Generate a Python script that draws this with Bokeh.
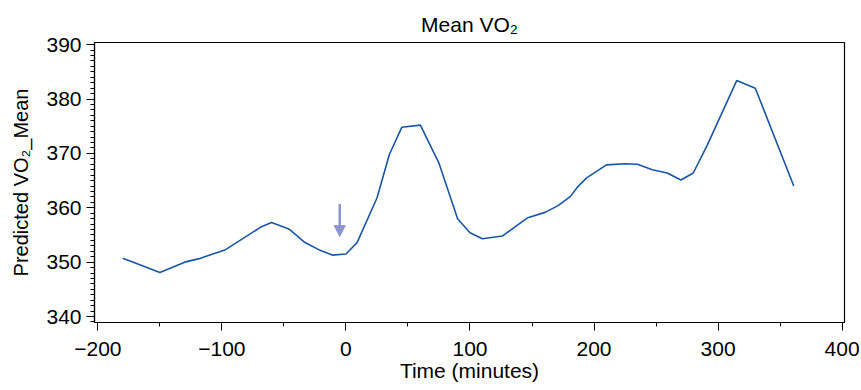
from bokeh.plotting import figure
from bokeh.models import Range1d, Arrow, NormalHead, SingleIntervalTicker
from bokeh.embed import file_html
from bokeh.resources import INLINE

# ---- data ----
time_min = [-180, -173, -150, -130, -119, -97, -69, -60, -46, -33, -22, -11, 0, 9,
            25, 35, 45, 60, 75, 90, 100, 110, 126, 146, 161, 171, 181, 187, 194,
            210, 225, 235, 247, 259, 270, 280, 291, 315, 330, 361]
vo2_mean = [350.7, 350.1, 348.1, 350.0, 350.6, 352.3, 356.4, 357.3, 356.1, 353.6,
            352.3, 351.3, 351.5, 353.6, 361.8, 369.8, 374.8, 375.2, 368.2, 358.0,
            355.4, 354.3, 354.8, 358.1, 359.2, 360.4, 362.1, 363.9, 365.5, 367.9,
            368.1, 368.0, 367.0, 366.4, 365.1, 366.4, 371.4, 383.4, 382.0, 364.0]

x_ticks = [-200, -100, 0, 100, 200, 300, 400]
x_tick_labels = ["\u2212200", "\u2212100", "0", "100", "200", "300", "400"]
y_ticks = [340, 350, 360, 370, 380, 390]

arrow_time = -5
arrow_top = 360.7
arrow_tip = 354.7

title_text = "Mean VO\u2082"
x_label = "Time (minutes)"
y_label = "Predicted VO\u2082_Mean"

FONT = "Liberation Sans"
LINE_COLOR = "#1a56a6"
ARROW_COLOR = "#8c95cd"

p = figure(width=861, height=390, output_backend="svg", toolbar_location=None,
           x_range=Range1d(-202.7, 401.9), y_range=Range1d(338.9, 390.4),
           min_border_left=94, min_border_right=17, min_border_top=42,
           min_border_bottom=68)

p.title.text = title_text
p.title.align = "center"
p.title.text_font = FONT
p.title.text_font_size = "21px"
p.title.text_font_style = "normal"
p.title.text_color = "black"
p.title.standoff = 13

p.xgrid.visible = False
p.ygrid.visible = False
p.outline_line_color = "black"
p.outline_line_width = 1.2
p.background_fill_color = "white"
p.border_fill_color = "white"

p.xaxis.ticker = SingleIntervalTicker(interval=100, num_minor_ticks=2)
p.yaxis.ticker = SingleIntervalTicker(interval=10, num_minor_ticks=10)
p.xaxis.major_label_overrides = {t: l for t, l in zip(x_ticks, x_tick_labels)}
p.yaxis.major_label_overrides = {t: str(t) for t in y_ticks}

for ax in (p.xaxis[0], p.yaxis[0]):
    ax.axis_line_color = "black"
    ax.axis_line_width = 1.2
    ax.major_tick_line_color = "black"
    ax.minor_tick_line_color = "black"
    ax.major_tick_out = 8
    ax.major_tick_in = 0
    ax.minor_tick_out = 4
    ax.minor_tick_in = 0
    ax.major_label_text_font = FONT
    ax.major_label_text_font_size = "21px"
    ax.major_label_text_color = "black"
    ax.axis_label_text_font = FONT
    ax.axis_label_text_font_style = "normal"
    ax.axis_label_text_color = "black"

p.xaxis.axis_label = x_label
p.yaxis.axis_label = y_label
p.xaxis.axis_label_text_font_size = "21px"
p.yaxis.axis_label_text_font_size = "20px"
p.xaxis.major_label_standoff = 11
p.yaxis.major_label_standoff = 5
p.xaxis.axis_label_standoff = 0
p.yaxis.axis_label_standoff = 11

p.line(time_min, vo2_mean, line_color=LINE_COLOR, line_width=1.6)

p.add_layout(Arrow(end=NormalHead(size=11, fill_color=ARROW_COLOR, line_color=ARROW_COLOR),
                   x_start=arrow_time, y_start=arrow_top, x_end=arrow_time, y_end=arrow_tip,
                   line_color=ARROW_COLOR, line_width=2.5))

open("out.html", "w").write(file_html(p, INLINE))
